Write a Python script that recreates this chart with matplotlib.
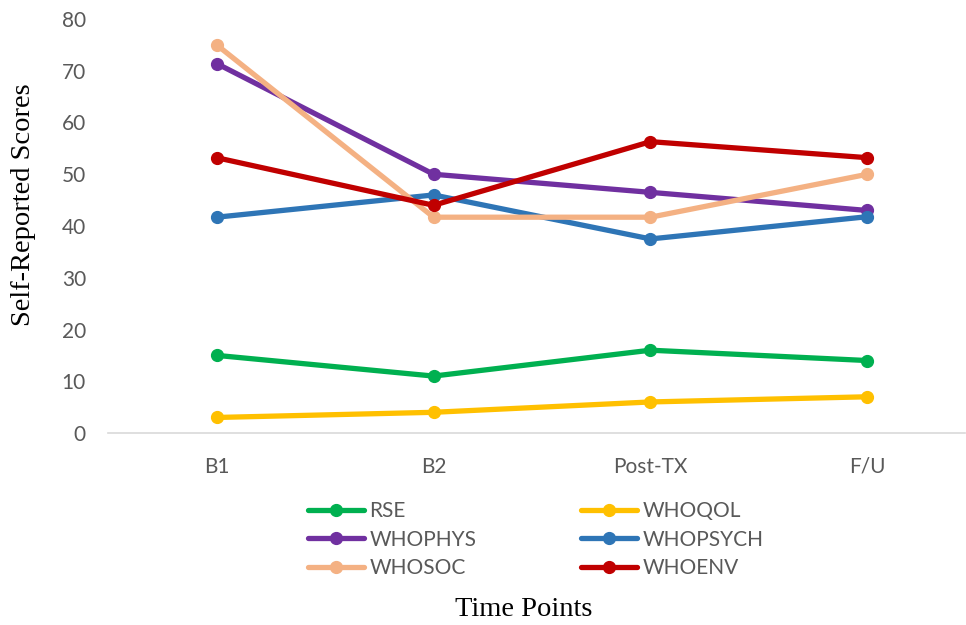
import matplotlib.pyplot as plt

time_points = ["B1", "B2", "Post-TX", "F/U"]

rse = [15, 11, 16, 14]
whoqol = [3, 4, 6, 7]
whophys = [71.4, 50, 46.5, 43]
whopsych = [41.7, 46, 37.5, 41.8]
whosoc = [75, 41.7, 41.7, 50]
whoenv = [53.2, 44, 56.3, 53.2]

series = [
    ("RSE", rse, "#00B050"),
    ("WHOQOL", whoqol, "#FFC000"),
    ("WHOPHYS", whophys, "#7030A0"),
    ("WHOPSYCH", whopsych, "#2E75B6"),
    ("WHOSOC", whosoc, "#F4B183"),
    ("WHOENV", whoenv, "#C00000"),
]

plt.rcParams["font.family"] = ["Lato", "DejaVu Sans"]

fig = plt.figure(figsize=(9.66, 6.25), dpi=100)
ax = fig.add_axes([0.112, 0.3072, 0.887, 0.6624])

x = range(len(time_points))
handles = {}
for name, vals, color in series:
    (ln,) = ax.plot(x, vals, color=color, linewidth=3.8, marker="o",
                    markersize=8.5, solid_capstyle="round", label=name,
                    clip_on=False)
    handles[name] = ln

ax.set_xlim(-0.5, 3.45)
ax.set_ylim(0, 80)
ax.set_yticks(range(0, 81, 10))
ax.set_xticks(list(x))
ax.set_xticklabels(time_points)

for side in ["top", "right", "left"]:
    ax.spines[side].set_visible(False)
ax.spines["bottom"].set_color("#D9D9D9")
ax.spines["bottom"].set_linewidth(1.2)
ax.tick_params(axis="both", length=0, labelsize=15, colors="#595959")
ax.tick_params(axis="x", pad=17)
ax.tick_params(axis="y", pad=16)

fig.text(0.024, 0.672, "Self-Reported Scores", fontfamily="Liberation Serif",
         fontsize=20.5, rotation=90, ha="center", va="center")
fig.text(0.542, 0.025, "Time Points", fontfamily="Liberation Serif",
         fontsize=20.5, ha="center", va="center")

# column-wise fill, so order handles to read row by row
order = ["RSE", "WHOPHYS", "WHOSOC", "WHOQOL", "WHOPSYCH", "WHOENV"]
leg = fig.legend([handles[n] for n in order], order, ncol=2,
                 loc="upper left", bbox_to_anchor=(0.319, 0.198),
                 frameon=False, fontsize=15, handlelength=2.7,
                 handletextpad=0.25, columnspacing=5.0, labelspacing=0.4,
                 borderpad=0, borderaxespad=0)
for t in leg.get_texts():
    t.set_color("#595959")

fig.savefig("out.png", dpi=100)
